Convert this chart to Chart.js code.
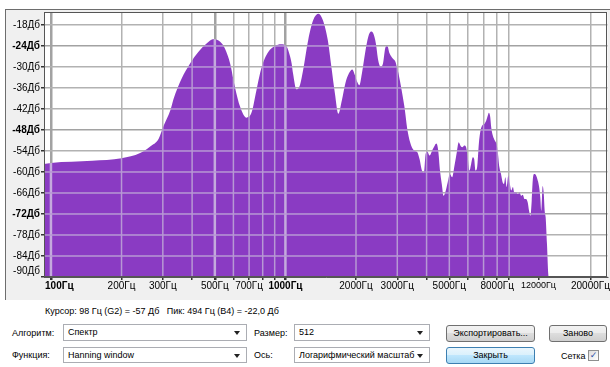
<!DOCTYPE html>
<html>
<head>
<meta charset="utf-8">
<script src="https://cdn.jsdelivr.net/npm/chart.js@4.4.1/dist/chart.umd.min.js"></script>
<style>
  html, body { margin: 0; padding: 0; width: 610px; height: 367px; overflow: hidden; background: #ffffff;
    font-family: "Liberation Sans", Arial, sans-serif; font-size: 9px; color: #000; }
  #panel { position: absolute; left: 5px; top: 9px; width: 605px; height: 291px; background: #f0f0f0;
    border-left: 1px solid #6d6d6d; border-top: 1px solid #6d6d6d; box-sizing: border-box; }
  #chart { position: absolute; left: 0; top: 0; }
  .lbl { position: absolute; white-space: nowrap; line-height: 12px; }
  .combo { position: absolute; background: #fff; border: 1px solid #abadb3; box-sizing: border-box;
    padding-left: 4px; line-height: 14px; white-space: nowrap; overflow: hidden; }
  .combo::after { content: ""; position: absolute; right: 6px; top: 6px; border-left: 3px solid transparent;
    border-right: 3px solid transparent; border-top: 4px solid #222; }
  .btn { position: absolute; box-sizing: border-box; border: 1px solid #707070; border-radius: 3px;
    background: linear-gradient(#f2f2f2, #ebebeb 50%, #dddddd 50%, #cfcfcf); text-align: center; line-height: 15px; }
  .btn.def { border-color: #3c7fb1; background: linear-gradient(#eaf6fd, #d9f0fc 50%, #bee6fd 50%, #a7d9f5); }
  .chk { position: absolute; width: 11px; height: 11px; box-sizing: border-box; border: 1px solid #8e8f8f;
    background: linear-gradient(135deg, #dcdcdc, #ffffff); color: #2d53a8; font-size: 9px; line-height: 9px;
    text-align: center; font-family: "DejaVu Sans", sans-serif; }
</style>
</head>
<body>
<div id="panel"></div>
<canvas id="chart" width="610" height="300"></canvas>

<div class="lbl" style="left:45px; top:305px;">Курсор: 98 Гц (G2) = -57 Дб&nbsp;&nbsp;&nbsp;Пик: 494 Гц (B4) = -22,0 Дб</div>

<div class="lbl" style="left:12px; top:327px;">Алгоритм:</div>
<div class="combo" style="left:63px; top:324px; width:184px; height:17px;">Спектр</div>
<div class="lbl" style="left:254px; top:327px;">Размер:</div>
<div class="combo" style="left:294px; top:324px; width:136px; height:17px;">512</div>
<div class="btn" style="left:446px; top:325px; width:89px; height:17px;">Экспортировать...</div>
<div class="btn" style="left:549px; top:325px; width:58px; height:17px;">Заново</div>

<div class="lbl" style="left:12px; top:349px;">Функция:</div>
<div class="combo" style="left:63px; top:347px; width:184px; height:16px;">Hanning window</div>
<div class="lbl" style="left:254px; top:349px;">Ось:</div>
<div class="combo" style="left:294px; top:347px; width:136px; height:16px;">Логарифмический масштаб</div>
<div class="btn def" style="left:446px; top:347px; width:89px; height:17px;">Закрыть</div>
<div class="lbl" style="left:561px; top:350px;">Сетка</div>
<div class="chk" style="left:588px; top:350px;">✓</div>

<script>
// Spectrum: frequency (Hz) and level (dB) pairs
const freqs = [
  93.4, 100, 150, 200, 240, 265, 288, 302, 323, 333, 361, 392, 425, 461, 494, 527, 552, 581, 609, 641,
  683, 718, 752, 792, 845, 902, 957, 1013, 1042, 1063, 1078, 1113, 1153, 1190, 1251, 1314, 1385, 1444, 1516, 1571,
  1626, 1682, 1741, 1801, 1864, 1929, 1978, 2023, 2070, 2119, 2186, 2256, 2316, 2369, 2431, 2486, 2544, 2607, 2676, 2721,
  2780, 2871, 2946, 3013, 3114, 3218, 3326, 3437, 3551, 3647, 3733, 3822, 3898, 3963, 4031, 4124, 4220, 4335, 4409, 4485,
  4563, 4644, 4725, 4807, 4920, 5023, 5139, 5275, 5396, 5483, 5575, 5672, 5801, 5898, 5994, 6095, 6197, 6298, 6383, 6466,
  6574, 6684, 6796, 6909, 7070, 7188, 7304, 7376, 7474, 7546, 7666, 7816, 7940, 8040, 8175, 8310, 8447, 8558, 8668, 8780,
  8925, 9041, 9189, 9339, 9460, 9645, 9802, 9962, 10125, 10290, 10458, 10628, 10801, 10943, 11087, 11232, 11343, 11493, 11680, 11869,
  12063, 12220, 12340, 12508, 12631, 12756, 12880, 13050, 13220, 13300
];
const levels = [
  -57.7, -57.4, -56.8, -56.1, -54.6, -52.7, -50.5, -46.9, -42.4, -39.2, -33.3, -29.0, -25.7, -23.3, -22.0, -22.8, -24.7, -29.0, -35.7, -41.4,
  -44.5, -42.9, -36.7, -30.0, -25.7, -24.0, -23.5, -24.2, -26.5, -29.0, -31.9, -36.4, -35.2, -30.9, -22.3, -16.6, -14.8, -16.6, -22.3, -30.0,
  -37.6, -43.4, -39.5, -34.7, -31.9, -30.7, -32.3, -34.2, -35.2, -31.9, -26.1, -21.4, -19.9, -20.4, -23.3, -28.0, -29.9, -29.0, -24.2, -24.0,
  -26.1, -27.6, -28.5, -30.9, -35.7, -41.4, -48.6, -52.4, -53.9, -54.3, -56.3, -59.6, -60.1, -54.8, -54.2, -55.3, -53.9, -52.4, -51.9, -53.9,
  -59.6, -63.4, -66.8, -65.8, -63.0, -60.6, -61.5, -57.7, -53.9, -51.5, -52.4, -52.9, -52.4, -52.9, -55.8, -59.6, -57.7, -55.8, -56.3, -59.6,
  -58.6, -51.9, -48.1, -46.7, -46.2, -45.3, -43.8, -43.1, -44.3, -47.2, -49.6, -51.0, -51.9, -53.9, -58.6, -60.6, -63.0, -63.4, -61.5, -64.3,
  -61.0, -63.0, -65.3, -64.3, -65.8, -65.8, -66.3, -65.8, -66.8, -66.5, -67.7, -67.7, -68.7, -71.1, -72.5, -68.2, -62.5, -60.6, -60.8, -62.0,
  -64.0, -67.3, -71.1, -64.0, -65.8, -71.1, -72.9, -80.6, -89.2, -90.0
];

// Axis ticks
const freqTicks = [100, 200, 300, 400, 500, 600, 700, 800, 900,
                   1000, 2000, 3000, 4000, 5000, 6000, 7000, 8000, 9000, 12000, 20000];
const freqLabels = [100, 200, 300, 500, 700, 1000, 2000, 3000, 5000, 8000, 12000, 20000];
const freqBold = [100, 1000];
const freqSmall = [12000];
const freqMajor = [100, 500, 1000];
const freqNoGrid = [12000];
const dbTicks = [-90, -84, -78, -72, -66, -60, -54, -48, -42, -36, -30, -24, -18];
const dbBold = [-72, -48, -24];

const FREQ_MIN = 93.4, FREQ_MAX = 23640;
const DB_MIN = -90, DB_MAX = -14.3;

const FONT = '"Liberation Sans", Arial, sans-serif';
const FILL = '#8a3bc3';
const GRID = '#b2b2b2';
const GRID_MAJOR = '#a2a2a2';
const GRID_IN_FILL = '#b798d4';
const GRID_IN_FILL_MAJOR = '#c4aadd';
const GRID_W = 1.5, GRID_W_MAJOR = 2.5;

const inList = (v, list) => list.includes(v);

// Fill paint for the spectrum: purple with lighter grid lines, laid out on the chart's own scales
function spectrumFill(context) {
  const chart = context.chart;
  const a = chart.chartArea;
  const xs = chart.scales && chart.scales.x, ys = chart.scales && chart.scales.y;
  if (!a || !xs || !ys) return FILL;
  try {
    const off = document.createElement('canvas');
    off.width = chart.width;
    off.height = chart.height;
    const g = off.getContext('2d');
    g.fillStyle = FILL;
    g.fillRect(0, 0, off.width, off.height);
    freqTicks.forEach(v => {
      if (inList(v, freqNoGrid)) return;
      const major = inList(v, freqMajor);
      const w = major ? GRID_W_MAJOR : GRID_W;
      const px = xs.getPixelForValue(v);
      g.fillStyle = major ? GRID_IN_FILL_MAJOR : GRID_IN_FILL;
      g.fillRect(px - w / 2, a.top, w, a.bottom - a.top);
    });
    dbTicks.forEach(v => {
      const py = ys.getPixelForValue(v);
      g.fillStyle = GRID_IN_FILL;
      g.fillRect(a.left, py - GRID_W / 2, a.right - a.left, GRID_W);
    });
    const pattern = chart.ctx.createPattern(off, 'no-repeat');
    return pattern || FILL;
  } catch (e) {
    return FILL;
  }
}

// White plot area and outline box
const plotDecor = {
  id: 'plotDecor',
  beforeDraw(chart) {
    const { ctx, chartArea: a } = chart;
    ctx.save();
    ctx.fillStyle = '#ffffff';
    ctx.fillRect(a.left, a.top, a.right - a.left, a.bottom - a.top);
    ctx.restore();
  },
  afterDraw(chart) {
    const { ctx, chartArea: a } = chart;
    ctx.save();
    ctx.strokeStyle = '#555555';
    ctx.lineWidth = 1;
    ctx.strokeRect(Math.round(a.left) + 0.5, Math.round(a.top) + 0.5,
                   Math.round(a.right - a.left) - 1, Math.round(a.bottom - a.top) - 1);
    ctx.restore();
  }
};

new Chart(document.getElementById('chart'), {
  type: 'line',
  data: {
    datasets: [{
      data: freqs.map((f, i) => ({ x: f, y: levels[i] })),
      borderWidth: 0,
      borderColor: 'rgba(0,0,0,0)',
      backgroundColor: spectrumFill,
      fill: 'start',
      pointRadius: 0,
      cubicInterpolationMode: 'monotone'
    }]
  },
  options: {
    responsive: false,
    animation: false,
    devicePixelRatio: 1,
    layout: { padding: { left: 0, top: 12, right: 2, bottom: 0 } },
    plugins: { legend: { display: false }, tooltip: { enabled: false } },
    scales: {
      x: {
        type: 'logarithmic',
        min: FREQ_MIN,
        max: FREQ_MAX,
        afterBuildTicks: s => { s.ticks = freqTicks.map(v => ({ value: v })); },
        afterFit: s => { s.height = 23; },
        ticks: {
          autoSkip: false, maxRotation: 0, minRotation: 0, padding: 0, color: '#000',
          // the lowest label sits a little to the right of its tick
          callback: v => freqLabels.includes(v) ? (v === 100 ? '      ' : '') + v + 'Гц' : '',
          font: ctx => {
            const v = ctx.tick ? ctx.tick.value : null;
            return { family: FONT, size: inList(v, freqSmall) ? 9 : 10, weight: inList(v, freqBold) ? 'bold' : 'normal' };
          }
        },
        grid: {
          tickLength: 3,
          tickColor: '#333333',
          color: ctx => {
            const v = ctx.tick ? ctx.tick.value : null;
            if (inList(v, freqNoGrid)) return 'rgba(0,0,0,0)';
            return inList(v, freqMajor) ? GRID_MAJOR : GRID;
          },
          lineWidth: ctx => (ctx.tick && inList(ctx.tick.value, freqMajor)) ? GRID_W_MAJOR : GRID_W
        },
        border: { display: true, color: '#555555', width: 1 }
      },
      y: {
        min: DB_MIN,
        max: DB_MAX,
        afterBuildTicks: s => { s.ticks = dbTicks.map(v => ({ value: v })); },
        afterFit: s => { s.width = 44; },
        ticks: {
          autoSkip: false, padding: 1, color: '#000',
          // the bottom label is lifted so it clears the frequency labels
          callback: v => v === DB_MIN ? [v + 'Дб', ''] : v + 'Дб',
          font: ctx => ({ family: FONT, size: 10, weight: (ctx.tick && inList(ctx.tick.value, dbBold)) ? 'bold' : 'normal' })
        },
        grid: {
          tickLength: 3,
          tickColor: '#333333',
          color: ctx => (ctx.tick && inList(ctx.tick.value, dbBold)) ? GRID_MAJOR : GRID,
          lineWidth: GRID_W
        },
        border: { display: true, color: '#555555', width: 1 }
      }
    }
  },
  plugins: [plotDecor]
});
</script>
</body>
</html>
